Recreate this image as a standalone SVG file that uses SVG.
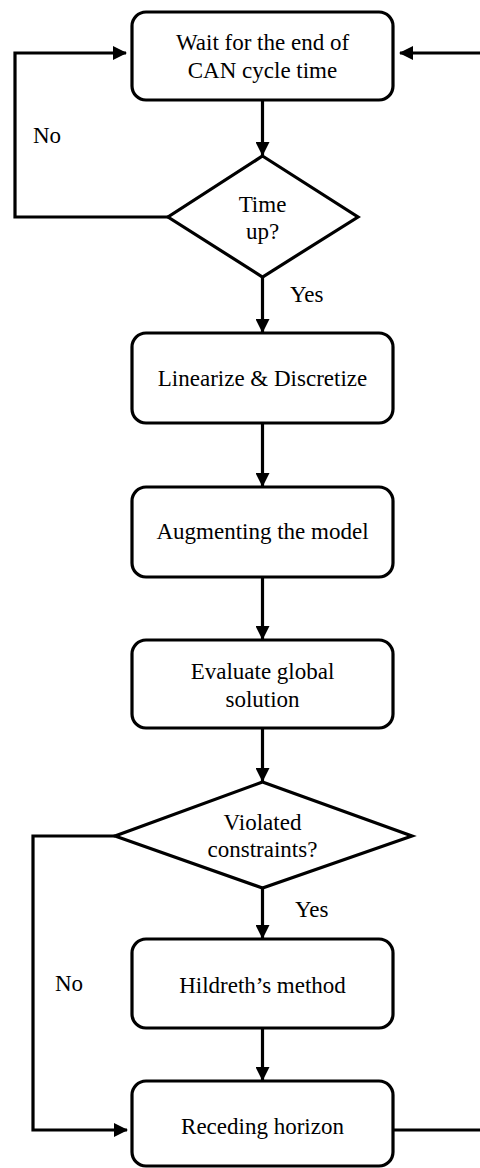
<svg xmlns="http://www.w3.org/2000/svg" width="480" height="1168" viewBox="0 0 480 1168">
<style>
.box{fill:#fff;stroke:#000;stroke-width:3.2}
.dia{fill:#fff;stroke:#000;stroke-width:3.2;stroke-linejoin:miter}
.t{font-family:"Liberation Serif","Times New Roman",serif;font-size:23px;fill:#000;text-anchor:middle}
.l{font-family:"Liberation Serif","Times New Roman",serif;font-size:23px;fill:#000}
.c{fill:none;stroke:#000;stroke-width:3.2;stroke-linejoin:miter}
</style>
<defs>
<marker id="ah" markerUnits="userSpaceOnUse" markerWidth="14" markerHeight="14" viewBox="0 0 14 14" refX="13" refY="7" orient="auto">
<path d="M0,0 L14,7 L0,14 Z" fill="#000"/>
</marker>
</defs>
<g id="connectors">
<path class="c" d="M262.5,100 V155" marker-end="url(#ah)"/>
<path class="c" d="M168,217 H15 V53 H126" marker-end="url(#ah)"/>
<path class="c" d="M262.5,277 V332" marker-end="url(#ah)"/>
<path class="c" d="M262.5,423 V486" marker-end="url(#ah)"/>
<path class="c" d="M262.5,577 V639" marker-end="url(#ah)"/>
<path class="c" d="M262.5,728 V781" marker-end="url(#ah)"/>
<path class="c" d="M115,836 H33 V1130 H127" marker-end="url(#ah)"/>
<path class="c" d="M262.5,888 V938" marker-end="url(#ah)"/>
<path class="c" d="M262.5,1028 V1080" marker-end="url(#ah)"/>
<path class="c" d="M393,1130 H484 V53 H400" marker-end="url(#ah)"/>
<text class="l" x="33" y="143">No</text>
<text class="l" x="290" y="302">Yes</text>
<text class="l" x="295" y="917">Yes</text>
<text class="l" x="55" y="991">No</text>
</g>
<g id="wait">
<rect class="box" x="132" y="12" width="261" height="88" rx="14"/>
<text class="t" x="262.5" y="50">Wait for the end of</text>
<text class="t" x="262.5" y="78">CAN cycle time</text>
</g>
<g id="timeup">
<polygon class="dia" points="262.5,156 358,217 262.5,277 168,217"/>
<text class="t" x="262.5" y="212">Time</text>
<text class="t" x="262.5" y="239">up?</text>
</g>
<g id="linearize">
<rect class="box" x="132" y="333" width="261" height="90" rx="14"/>
<text class="t" x="262.5" y="386">Linearize &amp; Discretize</text>
</g>
<g id="augment">
<rect class="box" x="132" y="487" width="261" height="90" rx="14"/>
<text class="t" x="262.5" y="539">Augmenting the model</text>
</g>
<g id="evaluate">
<rect class="box" x="132" y="640" width="261" height="88" rx="14"/>
<text class="t" x="262.5" y="679">Evaluate global</text>
<text class="t" x="262.5" y="707">solution</text>
</g>
<g id="violated">
<polygon class="dia" points="262.5,782 412,836 262.5,888 115,836"/>
<text class="t" x="262.5" y="830">Violated</text>
<text class="t" x="262.5" y="857">constraints?</text>
</g>
<g id="hildreth">
<rect class="box" x="132" y="939" width="261" height="89" rx="14"/>
<text class="t" x="262.5" y="993">Hildreth’s method</text>
</g>
<g id="receding">
<rect class="box" x="132" y="1081" width="261" height="85" rx="14"/>
<text class="t" x="262.5" y="1134">Receding horizon</text>
</g>
</svg>
